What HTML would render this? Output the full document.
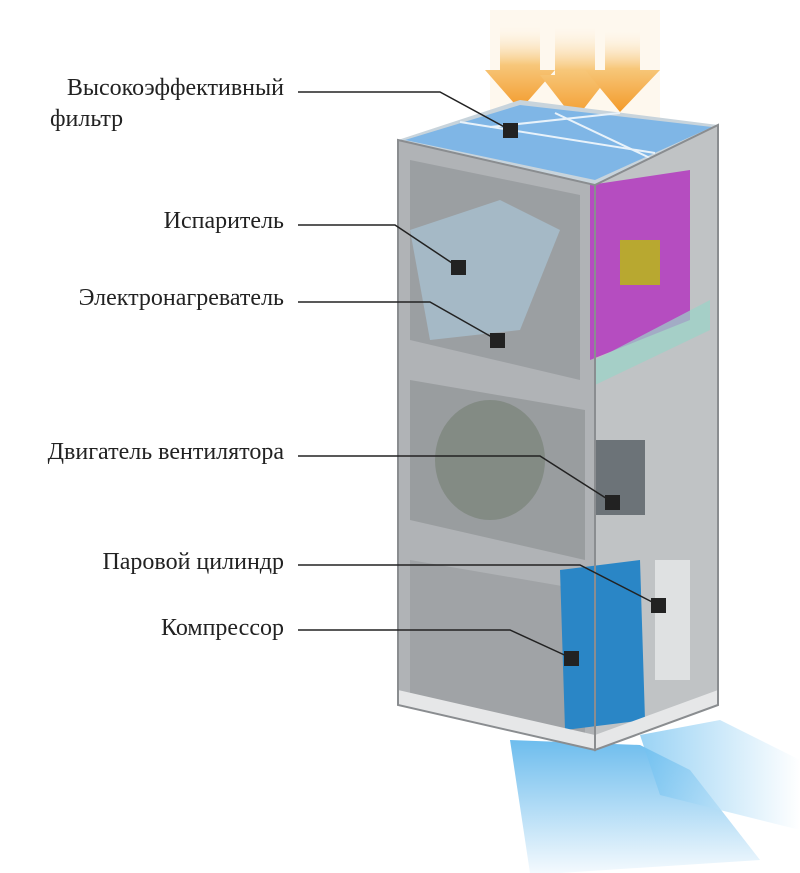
<!DOCTYPE html>
<html><head><meta charset="utf-8"><style>
body{margin:0;background:#fff;width:800px;height:873px;overflow:hidden}
svg{display:block}
text{font-family:"Liberation Serif",serif;font-size:24px;fill:#222}
</style></head><body>
<svg width="800" height="873" viewBox="0 0 800 873">
<defs>
<linearGradient id="og" x1="0" y1="0" x2="0" y2="1">
<stop offset="0" stop-color="#fff" stop-opacity="0"/><stop offset="0.5" stop-color="#f7c77a"/><stop offset="1" stop-color="#f39a2a"/></linearGradient>
<linearGradient id="bg" x1="0" y1="0" x2="0" y2="1">
<stop offset="0" stop-color="#2fa0e6"/><stop offset="1" stop-color="#eef7fd"/></linearGradient>
<linearGradient id="bg2" x1="0" y1="0" x2="1" y2="0">
<stop offset="0" stop-color="#6fc0f0"/><stop offset="1" stop-color="#fff"/></linearGradient>
</defs>
<rect x="490" y="10" width="170" height="120" fill="#fdf1dd" opacity="0.5"/>
<polygon points="500,20 540,20 540,70 555,70 520,110 485,70 500,70" fill="url(#og)"/>
<polygon points="555,20 595,20 595,75 610,75 575,120 540,75 555,75" fill="url(#og)"/>
<polygon points="605,25 640,25 640,70 660,70 620,112 585,70 605,70" fill="url(#og)"/>
<polygon points="510,740 640,745 690,770 760,860 560,873 530,873" fill="url(#bg)" opacity="0.7"/>
<polygon points="640,735 720,720 800,760 800,830 660,795" fill="url(#bg2)" opacity="0.7"/>
<polygon points="398,140 595,185 595,750 398,705" fill="#b0b3b6"/>
<polygon points="595,185 718,125 718,705 595,750" fill="#c0c3c5"/>
<polygon points="398,140 520,100 718,125 595,185" fill="#c8d4dc"/>
<polygon points="405,140 520,105 712,127 595,180" fill="#7fb6e6"/>
<g stroke="#e8f2fa" stroke-width="2"><line x1="460" y1="122" x2="655" y2="153"/><line x1="555" y1="113" x2="650" y2="158"/><line x1="490" y1="127" x2="620" y2="113"/></g>
<polygon points="410,160 580,195 580,380 410,340" fill="#8d9195" opacity="0.6"/>
<polygon points="410,230 500,200 560,230 520,330 430,340" fill="#a9c4d6" opacity="0.7"/>
<polygon points="590,185 690,170 690,320 590,360" fill="#b54dc0"/>
<rect x="620" y="240" width="40" height="45" fill="#b8a830"/>
<polygon points="410,380 585,410 585,560 410,520" fill="#8a8e90" opacity="0.6"/>
<ellipse cx="490" cy="460" rx="55" ry="60" fill="#6d7a6a" opacity="0.5"/>
<rect x="595" y="440" width="50" height="75" fill="#6c7378"/>
<polygon points="410,560 585,590 585,740 410,700" fill="#8f9395" opacity="0.5"/>
<polygon points="560,570 640,560 645,720 565,730" fill="#2a86c6"/>
<rect x="655" y="560" width="35" height="120" fill="#dfe1e2"/>
<polygon points="595,360 710,300 710,330 595,385" fill="#9ad4c8" opacity="0.7"/>
<polygon points="398,690 595,735 718,690 718,705 595,750 398,705" fill="#e6e7e8"/>
<g stroke="#8a8d90" fill="none" stroke-width="2"><polygon points="398,140 595,185 595,750 398,705"/><polygon points="595,185 718,125 718,705 595,750"/></g>
<g stroke="#222" stroke-width="1.5" fill="none">
<polyline points="298,92 440,92 510,130"/>
<polyline points="298,225 395,225 458,267"/>
<polyline points="298,302 430,302 497,340"/>
<polyline points="298,456 540,456 612,502"/>
<polyline points="298,565 580,565 658,605"/>
<polyline points="298,630 510,630 571,658"/>
</g>
<g fill="#222">
<rect x="503" y="123" width="15" height="15"/>
<rect x="451" y="260" width="15" height="15"/>
<rect x="490" y="333" width="15" height="15"/>
<rect x="605" y="495" width="15" height="15"/>
<rect x="651" y="598" width="15" height="15"/>
<rect x="564" y="651" width="15" height="15"/>
</g>
<text x="284" y="95" text-anchor="end">Высокоэффективный</text>
<text x="50" y="126">фильтр</text>
<text x="284" y="228" text-anchor="end">Испаритель</text>
<text x="284" y="305" text-anchor="end">Электронагреватель</text>
<text x="284" y="459" text-anchor="end">Двигатель вентилятора</text>
<text x="284" y="569" text-anchor="end">Паровой цилиндр</text>
<text x="284" y="635" text-anchor="end">Компрессор</text>
</svg>
</body></html>
